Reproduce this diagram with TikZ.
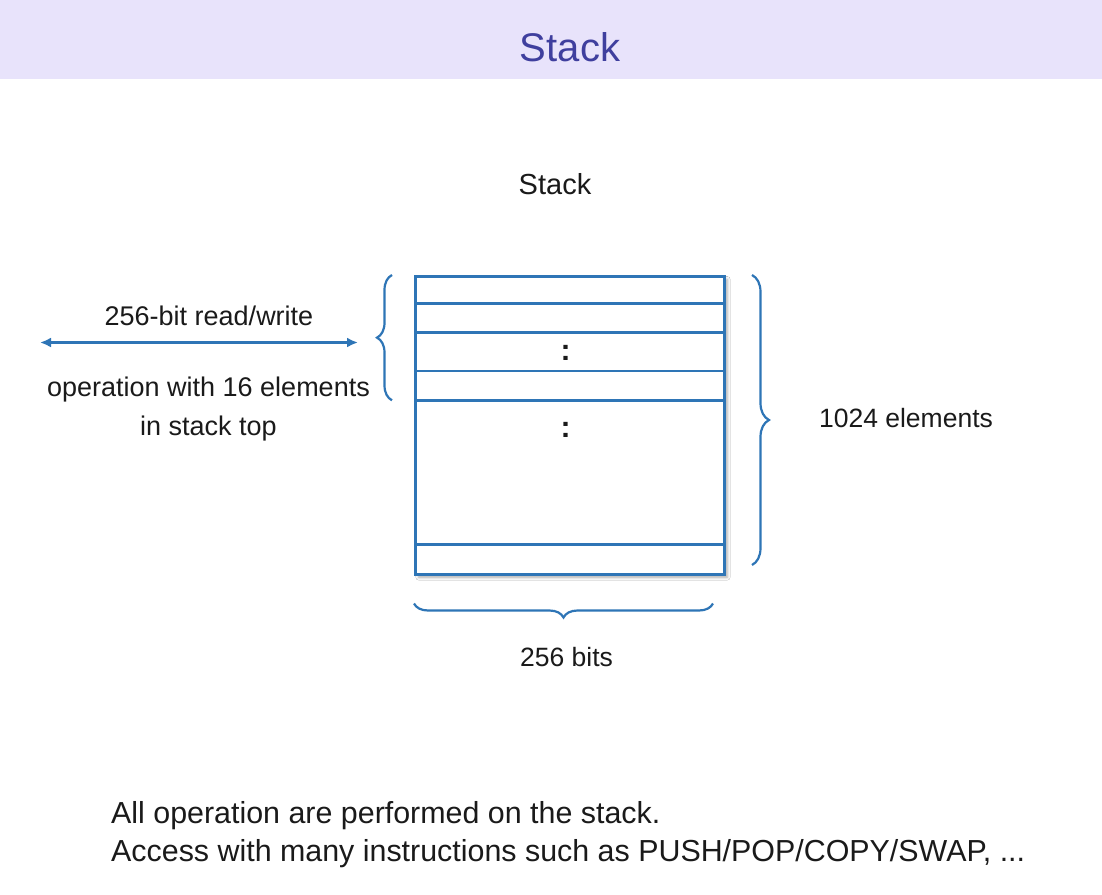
\documentclass[tikz,border=0pt]{standalone}
\usepackage{fontspec}
\setmainfont{Liberation Sans}
\usetikzlibrary{arrows.meta,decorations.pathreplacing,shadows.blur}
\definecolor{bandcol}{HTML}{E8E3FB}
\definecolor{titlecol}{HTML}{3F3F9E}
\definecolor{stackblue}{HTML}{2E75B6}
\definecolor{txt}{HTML}{1A1A1A}
\tikzset{
  lbl/.style={text=txt, inner sep=0pt, anchor=base, font=\fontsize{26.5}{30}\selectfont},
  lblw/.style={lbl, font=\fontsize{27}{30}\selectfont},
  body/.style={text=txt, inner sep=0pt, anchor=base west, font=\fontsize{30.4}{36}\selectfont},
  rowline/.style={draw=stackblue, line width=2.8pt},
  bracestyle/.style={draw=stackblue, line width=2.2pt, decorate},
  colon/.style={text=txt, inner sep=0pt, font=\fontsize{30}{34}\selectfont\bfseries},
  rw/.style={draw=stackblue, line width=2.2pt, {Latex[length=11pt,width=10pt]}-{Latex[length=11pt,width=10pt]}}
}
\begin{document}
\begin{tikzpicture}[x=1pt,y=-1pt]
\useasboundingbox (0,0) rectangle (1102,894);
\fill[white] (0,0) rectangle (1102,894);
\fill[bandcol] (0,0) rectangle (1102,79);
\node[text=titlecol, inner sep=0pt, anchor=base, font=\fontsize{40}{46}\selectfont] (title) at (570,61) {Stack};

\node[lbl, font=\fontsize{29}{32}\selectfont] (sub) at (555,194.3) {Stack};

% stack rectangle
\node[draw=stackblue, line width=3pt, fill=white, minimum width=308.4pt, minimum height=297.7pt, inner sep=0pt, anchor=north west,
  blur shadow={shadow xshift=3pt, shadow yshift=-3pt, shadow blur radius=3pt, shadow opacity=35}] (stk) at (414.3,275) {};
\foreach \yy/\nm in {303.3/r1, 332.3/r2, 371/r3, 400.3/r4, 544.3/r5}{
  \coordinate (\nm w) at (414.3,\yy);
  \coordinate (\nm e) at (722.7,\yy);
  \draw[rowline] (\nm w) -- (\nm e);
}
\node[colon] (c1) at (565.7,353) {:};
\node[colon] (c2) at (565.7,429.5) {:};

% braces
\coordinate (lb1) at (392,400.3);
\coordinate (lb2) at (392,275);
\draw[bracestyle, decoration={brace, amplitude=15pt}] (lb1) -- (lb2);
\coordinate (rb1) at (752,275);
\coordinate (rb2) at (752,565);
\draw[bracestyle, decoration={brace, amplitude=17pt}] (rb1) -- (rb2);
\coordinate (bb1) at (713,603.5);
\coordinate (bb2) at (414,603.5);
\draw[bracestyle, decoration={brace, amplitude=14pt}] (bb1) -- (bb2);

% arrow
\coordinate (aL) at (40,342.5);
\coordinate (aR) at (358,342.5);
\draw[rw] (aL) -- (aR);

\node[lblw] (rwlbl) at (209,325) {256-bit read/write};
\node[lblw] (op1) at (208.5,396.7) {operation with 16 elements};
\node[lblw] (op2) at (208.5,435) {in stack top};
\node[lbl] (elem) at (906,427.3) {1024 elements};
\node[lbl] (bits) at (566.5,666.7) {256 bits};

\node[body] (l1) at (111,823.3) {All operation are performed on the stack.};
\node[body] (l2) at (111,861.7) {Access with many instructions such as PUSH/POP/COPY/SWAP, ...};
\end{tikzpicture}
\end{document}
